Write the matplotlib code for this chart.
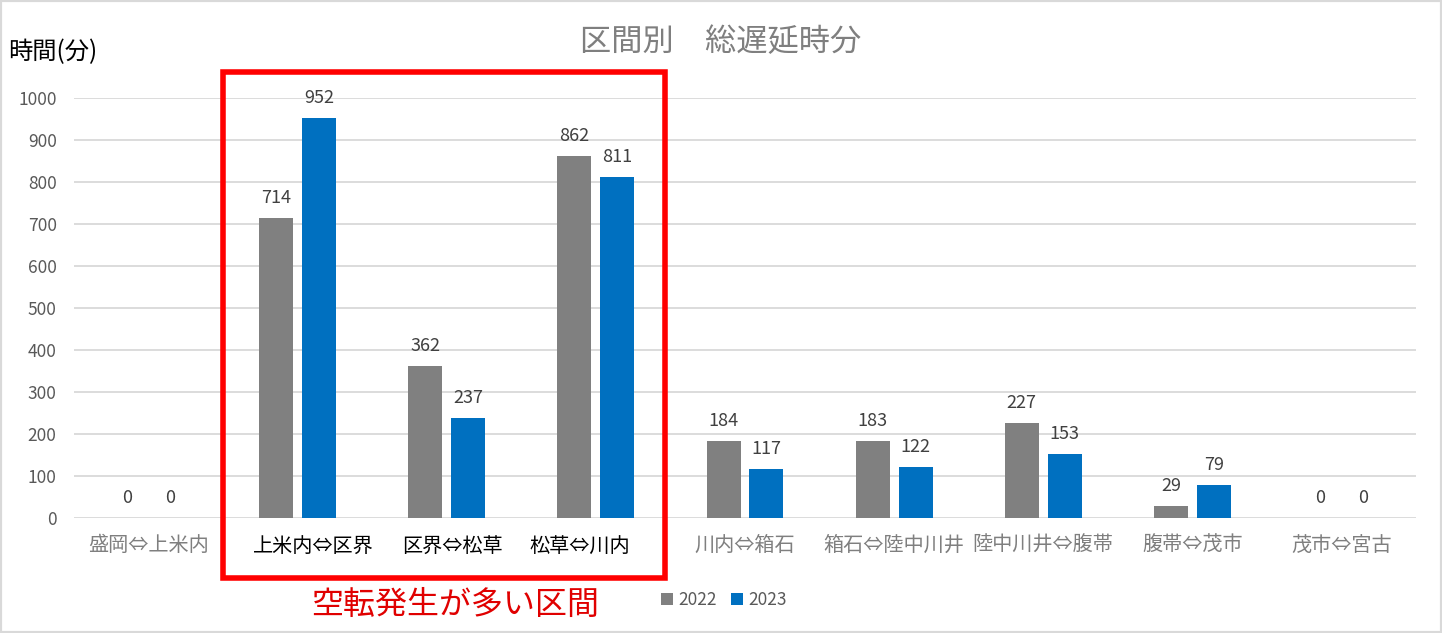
import matplotlib
matplotlib.use("Agg")
import matplotlib.pyplot as plt
from matplotlib.patches import Rectangle
import numpy as np

plt.rcParams['font.family'] = ['Noto Sans CJK JP', 'DejaVu Sans']

categories = ["盛岡⇔上米内", "上米内⇔区界", "区界⇔松草", "松草⇔川内", "川内⇔箱石",
              "箱石⇔陸中川井", "陸中川井⇔腹帯", "腹帯⇔茂市", "茂市⇔宮古"]
values_2022 = [0, 714, 362, 862, 184, 183, 227, 29, 0]
values_2023 = [0, 952, 237, 811, 117, 122, 153, 79, 0]
series_names = ["2022", "2023"]
highlighted = [1, 2, 3]
yticks = list(range(0, 1001, 100))

c22 = "#808080"
c23 = "#0070C0"

fig = plt.figure(figsize=(14.42, 6.33), dpi=100)
ax = fig.add_axes([74/1442, 115/633, (1416-74)/1442, 420/633])

x = np.arange(len(categories))
w = 0.228
off = 0.144
b1 = ax.bar(x - off, values_2022, w, color=c22, label=series_names[0], zorder=3)
b2 = ax.bar(x + off, values_2023, w, color=c23, label=series_names[1], zorder=3)

for bars, vals in ((b1, values_2022), (b2, values_2023)):
    for r, v in zip(bars, vals):
        ax.annotate(str(v), (r.get_x() + r.get_width()/2, v), xytext=(0, 8),
                    textcoords="offset points", ha="center", va="bottom",
                    fontsize=13, color="#404040")

ax.set_xlim(-0.5, len(categories) - 0.5)
ax.set_ylim(0, 1000)
ax.set_yticks(yticks)
ax.set_yticklabels([str(t) for t in yticks], fontsize=12.5, color="#595959")
ax.yaxis.grid(True, color="#d9d9d9", linewidth=1.3, zorder=0)
ax.set_axisbelow(True)
for s in ax.spines.values():
    s.set_visible(False)
ax.tick_params(axis='y', length=0, pad=12.5)
ax.tick_params(axis='x', length=0, pad=12)
ax.set_xticks(x)
ax.set_xticklabels([("" if i in highlighted else c) for i, c in enumerate(categories)],
                   fontsize=14.5, color="#7f7f7f")

# overlay labels (black) for the highlighted sections, as in the reference
overlay_x = [313, 452, 580]
for i, px in zip(highlighted, overlay_x):
    fig.text(px/1442, 1 - 547/633, categories[i], fontsize=14.5, color="black",
             ha="center", va="center")

fig.text(580/1442, 1 - 42/633, "区間別　総遅延時分", fontsize=22.5, color="#7f7f7f",
         ha="left", va="center")
fig.text(8/1442, 1 - 52/633, "時間(分)", fontsize=17.5, color="black",
         ha="left", va="center")

# highlight box
rect = Rectangle((223/1442, 1 - 578/633), (665-223)/1442, (578-72)/633,
                 transform=fig.transFigure, fill=False, edgecolor="#ff0000",
                 linewidth=4, zorder=10)
fig.patches.append(rect)
fig.text(455/1442, 1 - 605/633, "空転発生が多い区間", fontsize=23, color="#e00000",
         ha="center", va="center")

leg = fig.legend(handles=[b1, b2], labels=series_names, loc="center",
                 bbox_to_anchor=(724/1442, 1 - 600/633), ncol=2, frameon=False,
                 fontsize=12.5, handlelength=0.7, handleheight=0.7,
                 handletextpad=0.3, columnspacing=0.8)
for t in leg.get_texts():
    t.set_color("#595959")

# outer border
border = Rectangle((0, 0), 1, 1, transform=fig.transFigure, fill=False,
                   edgecolor="#d9d9d9", linewidth=3, zorder=0)
fig.patches.append(border)

fig.savefig("out.png", dpi=100)
